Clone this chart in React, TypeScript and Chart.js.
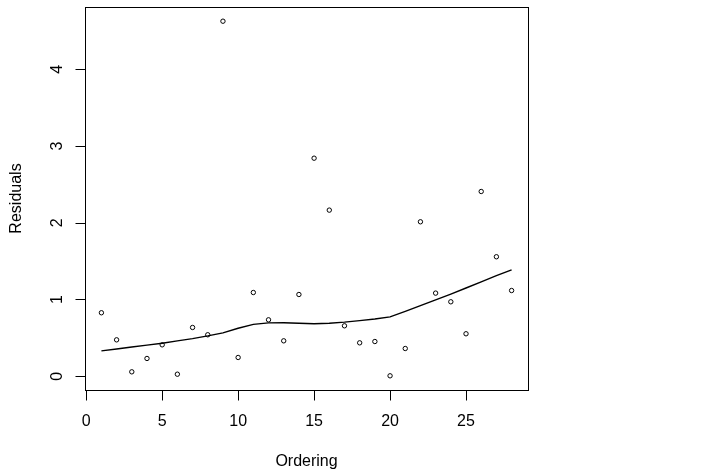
import React, { useEffect, useRef } from "react";
import { Chart, registerables } from "chart.js";

Chart.register(...registerables);

const ordering = [1, 2, 3, 4, 5, 6, 7, 8, 9, 10, 11, 12, 13, 14, 15, 16, 17, 18, 19, 20, 21, 22, 23, 24, 25, 26, 27, 28];
const residuals = [0.827, 0.474, 0.057, 0.231, 0.409, 0.026, 0.635, 0.54, 4.628, 0.244, 1.091, 0.735, 0.461, 1.065, 2.842, 2.165, 0.657, 0.435, 0.452, 0.005, 0.361, 2.013, 1.083, 0.97, 0.553, 2.408, 1.557, 1.117];
const smooth = [0.33, 0.355, 0.38, 0.405, 0.43, 0.46, 0.49, 0.525, 0.565, 0.625, 0.675, 0.695, 0.697, 0.69, 0.683, 0.69, 0.705, 0.725, 0.745, 0.774, 0.845, 0.92, 0.995, 1.07, 1.15, 1.23, 1.31, 1.387];
const xTicks = [0, 5, 10, 15, 20, 25];
const yTicks = [0, 1, 2, 3, 4];

const FONT = "'Liberation Sans', Arial, Helvetica, sans-serif";

const rFramePlugin = {
  id: "rFrame",
  afterDraw(chart: any) {
    const { ctx, chartArea, scales } = chart;
    const xs = scales.x;
    const ys = scales.y;
    ctx.save();
    ctx.strokeStyle = "#000";
    ctx.lineWidth = 1;
    const l = Math.round(chartArea.left) + 0.5;
    const r = Math.round(chartArea.right) + 0.5;
    const t = Math.round(chartArea.top) + 0.5;
    const b = Math.round(chartArea.bottom) + 0.5;
    ctx.strokeRect(l, t, r - l, b - t);
    ctx.beginPath();
    xTicks.forEach((v) => {
      const px = Math.round(xs.getPixelForValue(v)) + 0.5;
      ctx.moveTo(px, b);
      ctx.lineTo(px, b + 10);
    });
    yTicks.forEach((v) => {
      const py = Math.round(ys.getPixelForValue(v)) + 0.5;
      ctx.moveTo(l, py);
      ctx.lineTo(l - 10, py);
    });
    ctx.stroke();
    ctx.fillStyle = "#000";
    ctx.font = `16px ${FONT}`;
    ctx.textAlign = "center";
    ctx.textBaseline = "alphabetic";
    yTicks.forEach((v) => {
      const py = ys.getPixelForValue(v);
      ctx.save();
      ctx.translate(61.5, py);
      ctx.rotate(-Math.PI / 2);
      ctx.fillText(String(v), 0, 0);
      ctx.restore();
    });
    ctx.restore();
  },
};

export default function App() {
  const ref = useRef<HTMLCanvasElement | null>(null);
  useEffect(() => {
    if (!ref.current) return;
    const chart = new Chart(ref.current, {
      type: "scatter",
      data: {
        datasets: [
          {
            label: "Residuals",
            data: ordering.map((x, i) => ({ x, y: residuals[i] })),
            pointRadius: 2.2,
            pointBorderWidth: 1,
            pointBorderColor: "#000",
            pointBackgroundColor: "rgba(0,0,0,0)",
            showLine: false,
          },
          {
            label: "Smooth",
            data: ordering.map((x, i) => ({ x, y: smooth[i] })),
            showLine: true,
            pointRadius: 0,
            borderColor: "#000",
            borderWidth: 1.4,
            tension: 0,
          },
        ],
      },
      options: {
        responsive: false,
        animation: false,
        layout: { padding: { top: 7, right: 194, bottom: 0, left: 0 } },
        plugins: {
          legend: { display: false },
          tooltip: { enabled: false },
        },
        scales: {
          x: {
            type: "linear",
            min: -0.08,
            max: 29.08,
            grid: { display: false, drawTicks: false, tickLength: 0 },
            border: { display: false },
            afterBuildTicks: (s: any) => {
              s.ticks = xTicks.map((v) => ({ value: v }));
            },
            afterFit: (s: any) => {
              s.height = 84;
            },
            ticks: {
              color: "#000",
              font: { family: FONT, size: 16 },
              padding: 22,
              maxRotation: 0,
              autoSkip: false,
            },
            title: {
              display: true,
              text: "Ordering",
              color: "#000",
              font: { family: FONT, size: 16 },
              padding: { top: 0, bottom: 3 },
            },
          },
          y: {
            type: "linear",
            min: -0.18,
            max: 4.813,
            grid: { display: false, drawTicks: false, tickLength: 0 },
            border: { display: false },
            afterBuildTicks: (s: any) => {
              s.ticks = yTicks.map((v) => ({ value: v }));
            },
            afterFit: (s: any) => {
              s.width = 85;
            },
            ticks: { display: false },
            title: {
              display: true,
              text: "Residuals",
              color: "#000",
              font: { family: FONT, size: 16 },
              padding: { top: 7, bottom: 0 },
            },
          },
        },
      },
      plugins: [rFramePlugin],
    });
    return () => chart.destroy();
  }, []);
  return (
    <div style={{ position: "absolute", left: 0, top: 0, width: 722, height: 474, background: "#fff" }}>
      <canvas ref={ref} width={722} height={474} />
    </div>
  );
}
